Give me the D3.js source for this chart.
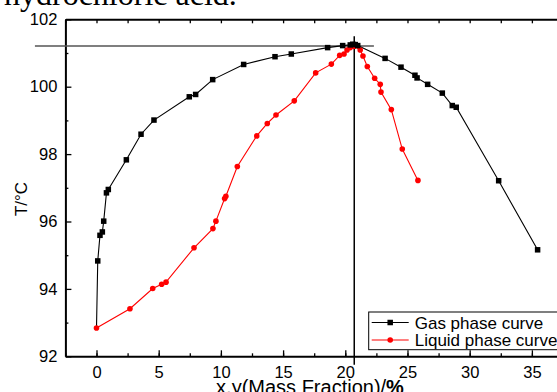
<!DOCTYPE html>
<html>
<head>
<meta charset="utf-8">
<script src="https://cdn.jsdelivr.net/npm/d3@7"></script>
<style>
  body { margin: 0; background: #fff; }
  svg { display: block; font-family: "Liberation Sans", Arial, sans-serif; }
</style>
</head>
<body>
<div id="chart"></div>
<script>
// gas phase (black squares)
let gasX = [0, 0.1, 0.28, 0.47, 0.58, 0.8, 0.95, 2.4, 3.58, 4.62, 7.46, 7.97, 9.34, 11.83, 14.35, 15.66, 18.58, 19.79, 20.4, 20.6, 20.8, 21.0, 23.2, 24.48, 25.6, 25.77, 26.62, 27.8, 28.6, 28.92, 32.33, 35.46];
let gasT = [92.84, 94.83, 95.59, 95.69, 96.01, 96.85, 96.95, 97.83, 98.59, 99.01, 99.70, 99.77, 100.21, 100.66, 100.89, 100.97, 101.16, 101.22, 101.24, 101.26, 101.25, 101.22, 100.84, 100.58, 100.34, 100.26, 100.07, 99.81, 99.44, 99.39, 97.21, 95.16];

// liquid phase (red circles)
let liqX = [0, 2.69, 4.52, 5.24, 5.59, 7.84, 9.36, 9.6, 10.3, 10.4, 11.32, 12.88, 13.73, 14.43, 15.9, 17.62, 18.88, 19.55, 19.9, 20.14, 20.4, 20.72, 21.2, 21.42, 21.77, 22.36, 22.81, 22.87, 23.7, 24.58, 25.84];
let liqT = [92.84, 93.41, 94.01, 94.14, 94.2, 95.22, 95.79, 96.01, 96.68, 96.75, 97.63, 98.54, 98.91, 99.16, 99.58, 100.41, 100.67, 100.93, 100.97, 101.09, 101.16, 101.2, 101.09, 100.91, 100.6, 100.25, 100.07, 99.84, 99.32, 98.15, 97.22];

// azeotrope guide lines
let azeoX = 20.72;
let azeoT = 101.21;
let hLineX = [-4.95, 22.3];
let vLineT = [101.5, 91.75];

let xTicks = [0, 5, 10, 15, 20, 25, 30, 35];
let xMinor = [-2.5, 0, 2.5, 5, 7.5, 10, 12.5, 15, 17.5, 20, 22.5, 25, 27.5, 30, 32.5, 35, 37.5];
let yTicks = [92, 94, 96, 98, 100, 102];
let yMinor = [93, 95, 97, 99, 101];
let legendNames = ["Gas phase curve", "Liquid phase curve"];

let width = 557, height = 392;
let sans = "'Liberation Sans', Arial, sans-serif";

let x = d3.scaleLinear().domain([-2.5, 38]).range([65.4, 569.2]);
let y = d3.scaleLinear().domain([92, 102]).range([356.3, 19.3]);

const svg = d3.select("#chart").append("svg")
  .attr("width", width)
  .attr("height", height);

// title fragment cut at top
svg.append("text")
  .attr("x", 4)
  .attr("y", 5)
  .attr("font-family", "'Liberation Serif', 'Times New Roman', serif")
  .attr("font-size", "32px")
  .text("hydrochloric acid.");

let styleAxis = g => {
  g.select(".domain").attr("stroke-width", 2);
  g.selectAll(".tick line").attr("stroke-width", 1.3);
  g.selectAll(".tick text").attr("font-size", "16.5px").attr("fill", "#000")
    .attr("font-family", sans);
};

// bottom axis
svg.append("g")
  .attr("transform", `translate(0,${y(92)})`)
  .call(d3.axisBottom(x).tickValues(xMinor).tickSizeInner(-3).tickSizeOuter(0).tickFormat(""))
  .call(g => g.select(".domain").remove())
  .call(styleAxis);
svg.append("g")
  .attr("transform", `translate(0,${y(92)})`)
  .call(d3.axisBottom(x).tickValues(xTicks).tickSizeInner(-6).tickSizeOuter(0).tickPadding(10))
  .call(styleAxis);

// top axis (no labels)
svg.append("g")
  .attr("transform", `translate(0,${y(102)})`)
  .call(d3.axisTop(x).tickValues(xMinor).tickSizeInner(-4).tickSizeOuter(0).tickFormat(""))
  .call(styleAxis);

// left axis
svg.append("g")
  .attr("transform", `translate(${x(-2.5)},0)`)
  .call(d3.axisLeft(y).tickValues(yMinor).tickSizeInner(-3).tickSizeOuter(0).tickFormat(""))
  .call(g => g.select(".domain").remove())
  .call(styleAxis);
svg.append("g")
  .attr("transform", `translate(${x(-2.5)},0)`)
  .call(d3.axisLeft(y).tickValues(yTicks).tickSizeInner(-6).tickSizeOuter(0).tickPadding(8))
  .call(styleAxis);

// guide lines
svg.append("line")
  .attr("x1", x(hLineX[0])).attr("x2", x(hLineX[1]))
  .attr("y1", y(azeoT)).attr("y2", y(azeoT))
  .attr("stroke", "#555").attr("stroke-width", 1.5);
svg.append("line")
  .attr("x1", x(azeoX)).attr("x2", x(azeoX))
  .attr("y1", y(vLineT[0])).attr("y2", y(vLineT[1]))
  .attr("stroke", "#000").attr("stroke-width", 1.5);

let gas = gasX.map((v, i) => ({ x: v, t: gasT[i] }));
let liq = liqX.map((v, i) => ({ x: v, t: liqT[i] }));

let line = d3.line().x(d => x(d.x)).y(d => y(d.t));

svg.append("path")
  .datum(gas)
  .attr("fill", "none")
  .attr("stroke", "#000")
  .attr("stroke-width", 1.1)
  .attr("d", line);

svg.append("path")
  .datum(liq)
  .attr("fill", "none")
  .attr("stroke", "#ff0000")
  .attr("stroke-width", 1.1)
  .attr("d", line);

svg.append("g")
  .selectAll("circle")
  .data(liq)
  .join("circle")
    .attr("cx", d => x(d.x))
    .attr("cy", d => y(d.t))
    .attr("r", 2.8)
    .attr("fill", "#ff0000");

let sq = 5.5;
svg.append("g")
  .selectAll("rect")
  .data(gas.slice(1))
  .join("rect")
    .attr("x", d => x(d.x) - sq / 2)
    .attr("y", d => y(d.t) - sq / 2)
    .attr("width", sq)
    .attr("height", sq)
    .attr("fill", "#000");

// legend
let legend = svg.append("g").attr("transform", "translate(368.7,312)");
legend.append("rect")
  .attr("width", 220)
  .attr("height", 37.7)
  .attr("fill", "#fff")
  .attr("stroke", "#000")
  .attr("stroke-width", 1);

legendNames.forEach(function(name, i) {
  let cy = 10.5 + i * 17.5;
  let col = i == 0 ? "#000" : "#ff0000";
  legend.append("line")
    .attr("x1", 3).attr("x2", 40)
    .attr("y1", cy).attr("y2", cy)
    .attr("stroke", col).attr("stroke-width", 1.1);
  if (i == 0) {
    legend.append("rect")
      .attr("x", 21.5 - sq / 2).attr("y", cy - sq / 2)
      .attr("width", sq).attr("height", sq)
      .attr("fill", col);
  } else {
    legend.append("circle")
      .attr("cx", 21.5).attr("cy", cy).attr("r", 2.8)
      .attr("fill", col);
  }
  legend.append("text")
    .attr("x", 46)
    .attr("y", cy)
    .attr("dy", "0.36em")
    .attr("font-size", "17px")
    .attr("font-family", sans)
    .text(name);
});

// axis titles
svg.append("text")
  .attr("transform", "translate(27,199) rotate(-90)")
  .attr("text-anchor", "middle")
  .attr("font-size", "17px")
  .attr("font-family", sans)
  .text("T/°C");

let xl = svg.append("text")
  .attr("x", 310)
  .attr("y", 394)
  .attr("text-anchor", "middle")
  .attr("font-size", "20px")
  .attr("font-family", sans)
  .text("x,y(Mass Fraction)/");
xl.append("tspan").attr("font-weight", "bold").text("%");
</script>
</body>
</html>
